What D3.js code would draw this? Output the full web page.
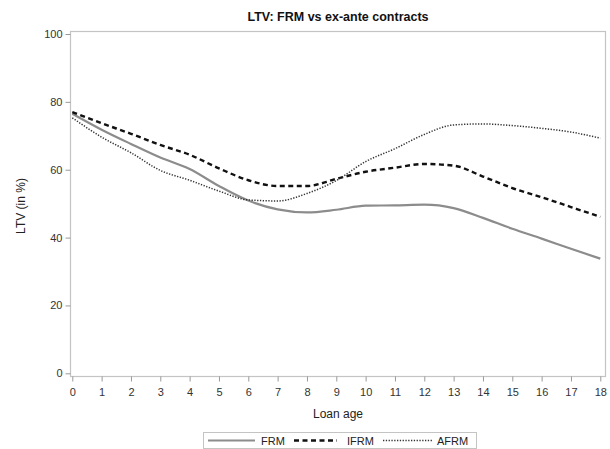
<!DOCTYPE html>
<html>
<head>
<meta charset="utf-8">
<script src="https://cdn.jsdelivr.net/npm/d3@7"></script>
<style>
  html, body { margin: 0; padding: 0; background: #fff; }
  svg { display: block; font-family: "Liberation Sans", Arial, sans-serif; }
</style>
</head>
<body>
<svg id="chart" width="610" height="449"></svg>
<script>
// Loan age (years) and average LTV (%) by contract type
const loanAge = [0,1,2,3,4,5,6,7,8,9,10,11,12,13,14,15,16,17,18];
const frm  = [76.5,71.8,67.6,63.6,60.2,55.2,50.9,48.3,47.4,48.2,49.4,49.5,49.7,48.7,45.8,42.6,39.7,36.7,33.8];
const ifrm = [77.0,73.7,70.6,67.3,64.4,60.4,56.9,55.2,55.2,57.3,59.4,60.6,61.7,61.2,58.0,54.6,51.9,49.0,46.1];
const afrm = [75.3,69.6,65.0,59.8,56.9,53.7,51.1,50.8,53.0,56.8,62.4,66.2,70.4,73.2,73.5,73.0,72.2,71.1,69.3];
const yTicks = [0,20,40,60,80,100];

const seriesNames = ["FRM", "IFRM", "AFRM"];
const seriesData = [frm, ifrm, afrm];
const seriesStyle = [
  { stroke: "#8c8c8c", width: 2.2, dash: null },
  { stroke: "#111111", width: 2.4, dash: "5,3.5" },
  { stroke: "#333333", width: 1.5, dash: "1.3,1.5" }
];

const svg = d3.select("#chart");
const frame = { left: 70.5, right: 605.5, top: 31.5, bottom: 376.5 };

const x = d3.scaleLinear().domain([0, 18]).range([72.3, 600.3]);
const y = d3.scaleLinear().domain([0, 100]).range([373.3, 34]);

// Title
svg.append("text")
  .attr("x", 338).attr("y", 21)
  .attr("text-anchor", "middle")
  .attr("font-size", 12.5).attr("font-weight", "bold").attr("fill", "#111")
  .text("LTV: FRM vs ex-ante contracts");

// Plot frame
svg.append("rect")
  .attr("x", frame.left).attr("y", frame.top)
  .attr("width", frame.right - frame.left).attr("height", frame.bottom - frame.top)
  .attr("fill", "none").attr("stroke", "#c4c4c4").attr("stroke-width", 1.2);

// Y axis
const yAxis = d3.axisLeft(y).tickValues(yTicks).tickSize(5).tickPadding(3).tickFormat(d3.format("d"));
const gy = svg.append("g").attr("transform", `translate(${frame.left},0)`).call(yAxis);
gy.select(".domain").remove();
gy.selectAll(".tick line").attr("stroke", "#999");
gy.selectAll(".tick text").attr("font-size", 11).attr("fill", "#333")
  .attr("font-family", "'Liberation Sans', Arial, sans-serif");

// X axis
const xAxis = d3.axisBottom(x).tickValues(loanAge).tickSize(5).tickPadding(7).tickFormat(d3.format("d"));
const gx = svg.append("g").attr("transform", `translate(0,${frame.bottom})`).call(xAxis);
gx.select(".domain").remove();
gx.selectAll(".tick line").attr("stroke", "#999");
gx.selectAll(".tick text").attr("font-size", 11).attr("fill", "#333")
  .attr("font-family", "'Liberation Sans', Arial, sans-serif");

// Axis titles
svg.append("text")
  .attr("x", 338).attr("y", 418)
  .attr("text-anchor", "middle").attr("font-size", 12).attr("fill", "#222")
  .text("Loan age");
svg.append("text")
  .attr("transform", "translate(25,206) rotate(-90)")
  .attr("text-anchor", "middle").attr("font-size", 12).attr("fill", "#222")
  .text("LTV (in %)");

// Lines
const line = d3.line()
  .x((d, i) => x(loanAge[i]))
  .y(d => y(d))
  .curve(d3.curveMonotoneX);

seriesData.forEach((vals, k) => {
  const s = seriesStyle[k];
  svg.append("path")
    .datum(vals)
    .attr("d", line)
    .attr("fill", "none")
    .attr("stroke", s.stroke)
    .attr("stroke-width", s.width)
    .attr("stroke-dasharray", s.dash);
});

// Legend
const legend = svg.append("g");
legend.append("rect")
  .attr("x", 203.5).attr("y", 432.5).attr("width", 273).attr("height", 16)
  .attr("fill", "#fff").attr("stroke", "#c4c4c4").attr("stroke-width", 1);
const legendItems = [
  { x0: 208, x1: 255, tx: 261 },
  { x0: 294, x1: 337, tx: 347 },
  { x0: 383, x1: 432, tx: 437 }
];
seriesNames.forEach((name, k) => {
  const it = legendItems[k];
  const s = seriesStyle[k];
  legend.append("line")
    .attr("x1", it.x0).attr("x2", it.x1).attr("y1", 440.5).attr("y2", 440.5)
    .attr("stroke", s.stroke).attr("stroke-width", s.width)
    .attr("stroke-dasharray", s.dash);
  legend.append("text")
    .attr("x", it.tx).attr("y", 444.5)
    .attr("font-size", 11).attr("fill", "#222")
    .text(name);
});
</script>
</body>
</html>
